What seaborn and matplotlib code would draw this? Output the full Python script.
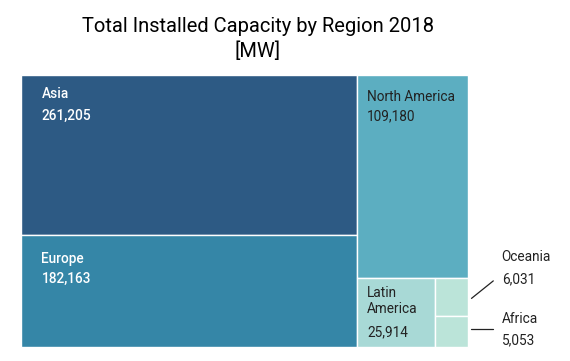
import matplotlib
matplotlib.use("Agg")
import matplotlib.pyplot as plt
from matplotlib.patches import Rectangle
import seaborn as sns

# ---- data ----
regions = ["Asia", "Europe", "North America", "Latin America", "Oceania", "Africa"]
capacity = [261205, 182163, 109180, 25914, 6031, 5053]
colors = ["#2d5a84", "#3586a7", "#5caec1", "#a8d9d6", "#bbe4d9", "#bbe4d9"]
title_lines = ["Total Installed Capacity by Region 2018", "[MW]"]

# ---- style ----
sns.set_theme(style="white")
plt.rcParams["font.family"] = ["Roboto", "DejaVu Sans"]

W, H = 570, 361
fig = plt.figure(figsize=(W / 100, H / 100), dpi=100)
ax = fig.add_axes([0, 0, 1, 1])
ax.set_xlim(0, W)
ax.set_ylim(H, 0)
ax.axis("off")

# plot region of the treemap (pixels)
X0, Y0, X1, Y1 = 21, 75, 468, 347

# layout tree: alternate column / row splits with depth
tree = [[0, 1], [2, [3, [4, 5]]]]


def total(node):
    if isinstance(node, int):
        return capacity[node]
    return sum(total(n) for n in node)


rects = {}


def layout(node, x, y, w, h, depth):
    if isinstance(node, int):
        rects[node] = (x, y, w, h)
        return
    tot = total(node)
    pos = 0.0
    for child in node:
        frac = total(child) / tot
        if depth % 2 == 0:
            layout(child, x + pos * w, y, frac * w, h, depth + 1)
        else:
            layout(child, x, y + pos * h, w, frac * h, depth + 1)
        pos += frac


layout(tree, X0, Y0, X1 - X0, Y1 - Y0, 0)

for i, (x, y, w, h) in rects.items():
    ax.add_patch(Rectangle((x, y), w, h, facecolor=colors[i],
                           edgecolor="white", linewidth=1.0))

fs = 9.8
dark = "#222222"
# inside labels: (dx, name baselines, value baseline)
inside = {
    0: (20.5, [23.3], 45.0, "white", "medium"),
    1: (20.5, [27.3], 48.0, "white", "medium"),
    2: (10.0, [25.7], 45.0, dark, "normal"),
    3: (10.0, [18.5, 35.0], 58.5, dark, "normal"),
}
for i, (dx, nys, vy, col, wt) in inside.items():
    x, y, w, h = rects[i]
    names = ["Latin", "America"] if i == 3 else [regions[i]]
    for nm, ny in zip(names, nys):
        ax.text(x + dx, y + ny, nm, color=col, fontsize=fs, fontweight=wt,
                va="baseline", ha="left")
    ax.text(x + dx, y + vy, f"{capacity[i]:,}", color=col, fontsize=fs,
            fontweight=wt, va="baseline", ha="left")

# outside labels with leader lines
x, y, w, h = rects[4]
ax.plot([x + w + 3.5, x + w + 25.3], [y + h / 2 + 1.5, y + h / 2 - 16], color="#222222", lw=0.9)
ax.text(501.7, 260.7, regions[4], color=dark, fontsize=fs, va="baseline", ha="left")
ax.text(501.7, 283.0, f"{capacity[4]:,}", color=dark, fontsize=fs, va="baseline", ha="left")

x, y, w, h = rects[5]
ax.plot([x + w + 2.7, x + w + 24.7], [y + h / 2 - 2.2, y + h / 2 - 2.2], color="#222222", lw=0.9)
ax.text(501.7, 323.3, regions[5], color=dark, fontsize=fs, va="baseline", ha="left")
ax.text(501.7, 344.0, f"{capacity[5]:,}", color=dark, fontsize=fs, va="baseline", ha="left")

for line, by in zip(title_lines, [31.5, 56.5]):
    ax.text(258, by, line, color="black", fontsize=14.5, ha="center", va="baseline")

fig.savefig("out.png", dpi=100)
